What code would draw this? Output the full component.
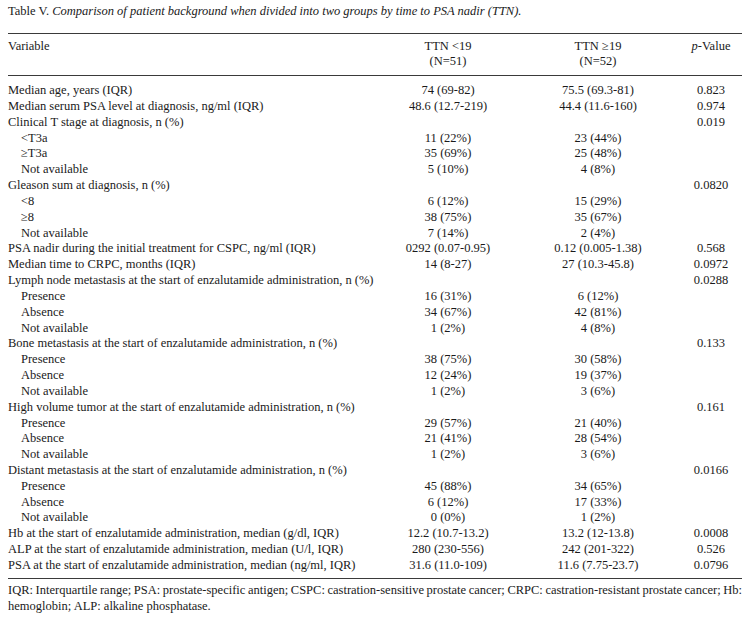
import React from "react";

const variables = [
  "Median age, years (IQR)",
  "Median serum PSA level at diagnosis, ng/ml (IQR)",
  "Clinical T stage at diagnosis, n (%)",
  "<T3a",
  "≥T3a",
  "Not available",
  "Gleason sum at diagnosis, n (%)",
  "<8",
  "≥8",
  "Not available",
  "PSA nadir during the initial treatment for CSPC, ng/ml (IQR)",
  "Median time to CRPC, months (IQR)",
  "Lymph node metastasis at the start of enzalutamide administration, n (%)",
  "Presence",
  "Absence",
  "Not available",
  "Bone metastasis at the start of enzalutamide administration, n (%)",
  "Presence",
  "Absence",
  "Not available",
  "High volume tumor at the start of enzalutamide administration, n (%)",
  "Presence",
  "Absence",
  "Not available",
  "Distant metastasis at the start of enzalutamide administration, n (%)",
  "Presence",
  "Absence",
  "Not available",
  "Hb at the start of enzalutamide administration, median (g/dl, IQR)",
  "ALP at the start of enzalutamide administration, median (U/l, IQR)",
  "PSA at the start of enzalutamide administration, median (ng/ml, IQR)",
];

// sub-category rows are indented
const indented = [
  false, false, false, true, true, true, false, true, true, true, false, false,
  false, true, true, true, false, true, true, true, false, true, true, true,
  false, true, true, true, false, false, false,
];

const ttnLow = [
  "74 (69-82)", "48.6 (12.7-219)", "", "11 (22%)", "35 (69%)", "5 (10%)",
  "", "6 (12%)", "38 (75%)", "7 (14%)", "0292 (0.07-0.95)", "14 (8-27)",
  "", "16 (31%)", "34 (67%)", "1 (2%)", "", "38 (75%)", "12 (24%)", "1 (2%)",
  "", "29 (57%)", "21 (41%)", "1 (2%)", "", "45 (88%)", "6 (12%)", "0 (0%)",
  "12.2 (10.7-13.2)", "280 (230-556)", "31.6 (11.0-109)",
];

const ttnHigh = [
  "75.5 (69.3-81)", "44.4 (11.6-160)", "", "23 (44%)", "25 (48%)", "4 (8%)",
  "", "15 (29%)", "35 (67%)", "2 (4%)", "0.12 (0.005-1.38)", "27 (10.3-45.8)",
  "", "6 (12%)", "42 (81%)", "4 (8%)", "", "30 (58%)", "19 (37%)", "3 (6%)",
  "", "21 (40%)", "28 (54%)", "3 (6%)", "", "34 (65%)", "17 (33%)", "1 (2%)",
  "13.2 (12-13.8)", "242 (201-322)", "11.6 (7.75-23.7)",
];

const pValues = [
  "0.823", "0.974", "0.019", "", "", "", "0.0820", "", "", "", "0.568", "0.0972",
  "0.0288", "", "", "", "0.133", "", "", "", "0.161", "", "", "",
  "0.0166", "", "", "", "0.0008", "0.526", "0.0796",
];

const footLine1 =
  "IQR: Interquartile range; PSA: prostate-specific antigen; CSPC: castration-sensitive prostate cancer; CRPC: castration-resistant prostate cancer; Hb:";
const footLine2 = "hemoglobin; ALP: alkaline phosphatase.";

const FONT = "'Liberation Serif', 'Times New Roman', serif";
const ROW_H = 15.83;
const FIRST_ROW_CENTER = 91;
const LEFT = 8;
const RIGHT = 742;
const COL1 = 448;
const COL2 = 598;
const COL3 = 711;
const TEXT = "#1a1a1a";

function Rule({ y }: { y: number }) {
  return (
    <div
      style={{
        position: "absolute",
        left: LEFT,
        width: RIGHT - LEFT,
        top: y,
        height: 1,
        background: "#3a3a3a",
      }}
    />
  );
}

function Cell({
  x,
  y,
  children,
  align = "center",
}: {
  x: number;
  y: number;
  children: React.ReactNode;
  align?: "center" | "left";
}) {
  const w = 200;
  return (
    <div
      style={{
        position: "absolute",
        left: align === "center" ? x - w / 2 : x,
        width: align === "center" ? w : 600,
        top: y - ROW_H / 2,
        height: ROW_H,
        lineHeight: `${ROW_H}px`,
        textAlign: align,
        whiteSpace: "nowrap",
      }}
    >
      {children}
    </div>
  );
}

export default function App() {
  return (
    <div
      style={{
        position: "absolute",
        left: 0,
        top: 0,
        width: 756,
        height: 632,
        background: "#fff",
        fontFamily: FONT,
        fontSize: 12.5,
        color: TEXT,
        overflow: "hidden",
      }}
    >
      <Cell x={LEFT} y={12} align="left">
        Table V. <i>Comparison of patient background when divided into two groups by time to PSA nadir (TTN).</i>
      </Cell>
      <Rule y={33} />
      <Cell x={LEFT} y={47} align="left">
        Variable
      </Cell>
      <Cell x={COL1} y={47}>TTN &lt;19</Cell>
      <Cell x={COL1} y={62}>(N=51)</Cell>
      <Cell x={COL2} y={47}>TTN ≥19</Cell>
      <Cell x={COL2} y={62}>(N=52)</Cell>
      <Cell x={COL3} y={47}>
        <i>p</i>-Value
      </Cell>
      <Rule y={75} />
      {variables.map((v, i) => {
        const y = FIRST_ROW_CENTER + i * ROW_H;
        return (
          <React.Fragment key={i}>
            <Cell x={LEFT + (indented[i] ? 13 : 0)} y={y} align="left">
              {v}
            </Cell>
            <Cell x={COL1} y={y}>{ttnLow[i]}</Cell>
            <Cell x={COL2} y={y}>{ttnHigh[i]}</Cell>
            <Cell x={COL3} y={y}>{pValues[i]}</Cell>
          </React.Fragment>
        );
      })}
      <Rule y={578} />
      <div
        style={{
          position: "absolute",
          left: LEFT,
          width: RIGHT - LEFT,
          top: 591 - ROW_H / 2,
          lineHeight: `${ROW_H}px`,
          textAlign: "justify",
          textAlignLast: "justify",
          wordSpacing: -0.7,
          whiteSpace: "nowrap",
        }}
      >
        {footLine1}
      </div>
      <Cell x={LEFT} y={607} align="left">
        {footLine2}
      </Cell>
    </div>
  );
}
